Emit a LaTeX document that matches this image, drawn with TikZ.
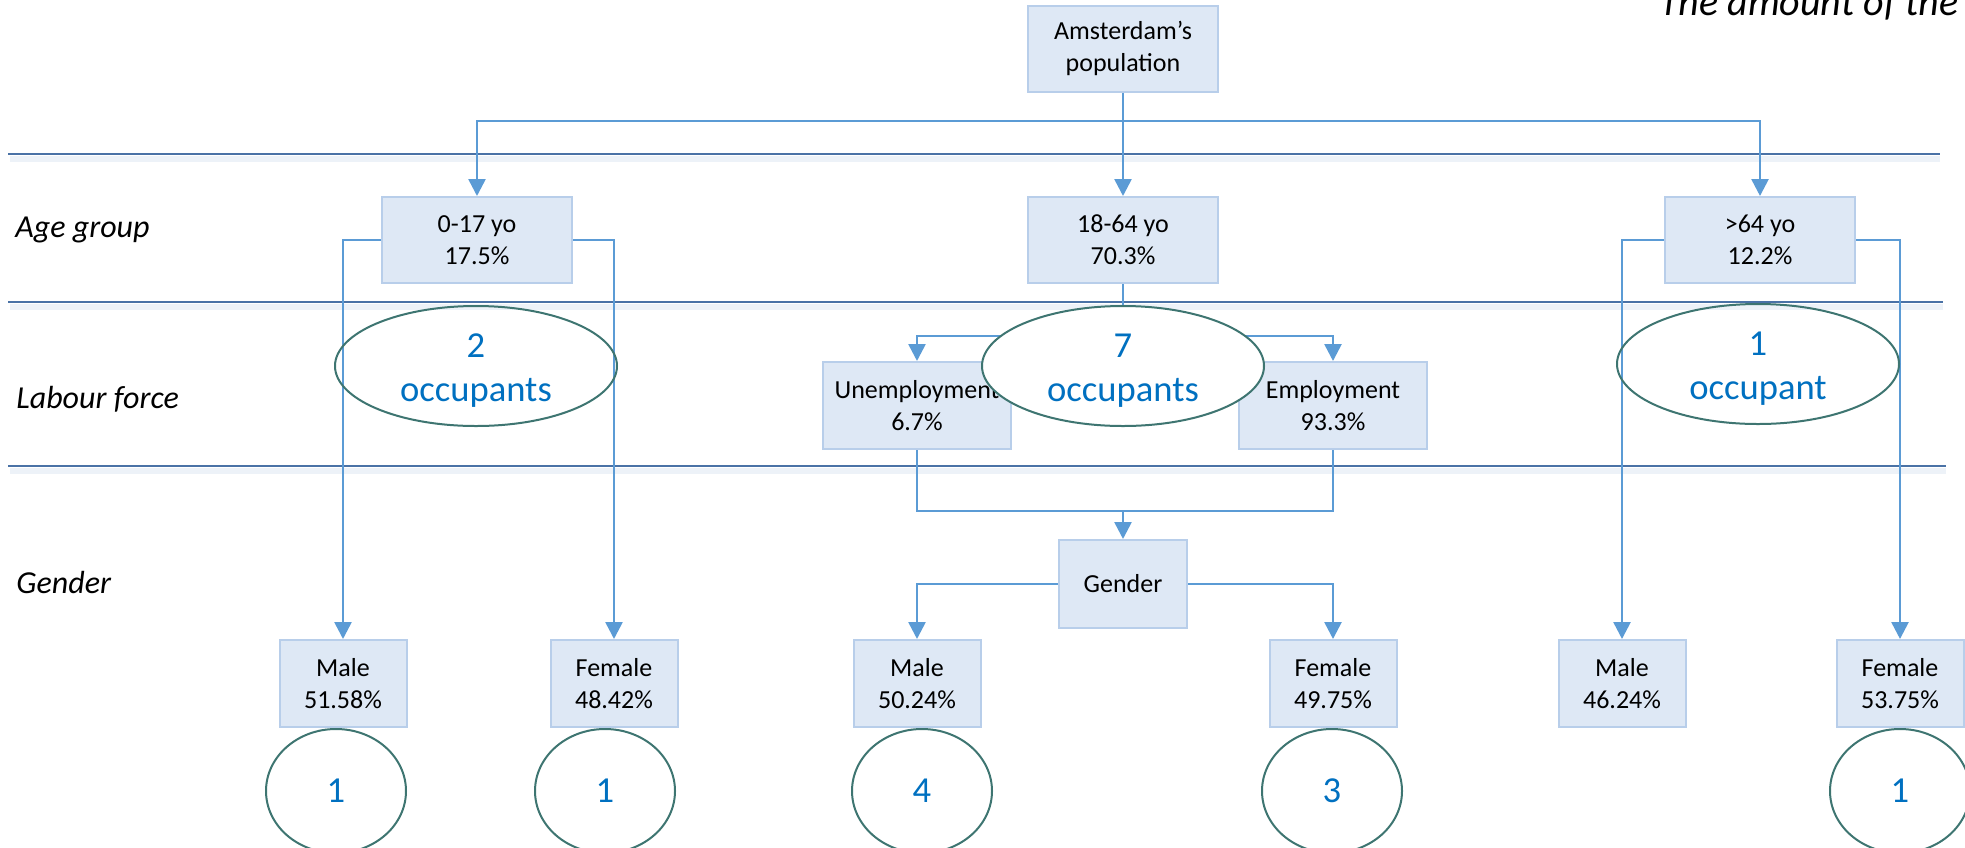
\documentclass[tikz,border=0pt]{standalone}
\usepackage{fontspec}
\setmainfont{Carlito}
\usetikzlibrary{arrows.meta,shapes.geometric}
\definecolor{boxfill}{HTML}{DEE8F5}
\definecolor{boxline}{HTML}{B8CEEA}
\definecolor{flow}{HTML}{5B9BD5}
\definecolor{rulecol}{HTML}{4A72A6}
\definecolor{ruleshade}{HTML}{EDF2F8}
\definecolor{ringcol}{HTML}{3E7571}
\definecolor{countcol}{HTML}{0070C0}
\newcommand{\toplift}{\rule{0pt}{16pt}}

\begin{document}
\begin{tikzpicture}[x=0.5pt,y=-0.5pt,
  box/.style={draw=boxline,fill=boxfill,line width=1pt,inner sep=0pt,
    align=center,text=black,font=\fontsize{13}{16}\selectfont},
  bigbox/.style={box,minimum width=95pt,minimum height=43pt},
  midbox/.style={box,minimum width=94pt,minimum height=43.5pt},
  genbox/.style={box,minimum width=64pt,minimum height=44pt},
  smallbox/.style={box,minimum width=63.5pt,minimum height=43.5pt},
  flowline/.style={draw=flow,line width=1.3pt},
  arr/.style={flowline,-{Triangle[length=8.5pt,width=8.5pt]}},
  ringnode/.style={ellipse,draw=ringcol,line width=1pt,inner sep=0pt,
    align=center,text=countcol,font=\fontsize{18.3}{22}\selectfont},
  bigring/.style={ringnode,minimum width=141pt,minimum height=60pt},
  smallring/.style={ringnode,minimum width=70pt,minimum height=62pt},
  lane/.style={anchor=base west,inner sep=0pt,font=\fontsize{16}{19}\selectfont\itshape},
  sep/.style={draw=rulecol,line width=1pt},
  sepshade/.style={draw=ruleshade,line width=3pt}]

\useasboundingbox (0,0) rectangle (1965,847);
\clip (0,0) rectangle (1965,847);

% lane separators with a soft shade underneath
\foreach \y/\r in {154/1940,302/1943,466/1946}{
  \draw[sepshade] (10,\y+5) -- (\r,\y+5);
  \draw[sep] (8,\y) -- (\r,\y);
}

% lane titles
\node[lane] (lage) at (15,237) {Age group};
\node[lane] (llab) at (16,408) {Labour force};
\node[lane] (lgen) at (16,593) {Gender};

\node[anchor=base west,inner sep=0pt,font=\fontsize{20}{24}\selectfont\itshape]
  (note) at (1659,15) {The amount of the};

% boxes
\node[bigbox] (pop) at (1123,48.5) {Amsterdam’s\\population};
\node[bigbox] (a017) at (477,240) {0-17 yo\\17.5\%};
\node[bigbox] (a1864) at (1123,240) {18-64 yo\\70.3\%};
\node[bigbox] (a64) at (1760,240) {>64 yo\\12.2\%};
\node[midbox] (unemp) at (917,405.5) {Unemployment\\6.7\%};
\node[midbox] (emp) at (1333,405.5) {Employment\\93.3\%};
\node[genbox] (gender) at (1123,584) {Gender};
\node[smallbox] (m1) at (343,683.5) {Male\\51.58\%};
\node[smallbox] (f1) at (614,683.5) {Female\\48.42\%};
\node[smallbox] (m2) at (917,683.5) {Male\\50.24\%};
\node[smallbox] (f2) at (1333,683.5) {Female\\49.75\%};
\node[smallbox] (m3) at (1622,683.5) {Male\\46.24\%};
\node[smallbox] (f3) at (1900,683.5) {Female\\53.75\%};

% connectors
\coordinate (bus) at (1123,121);
\coordinate (split) at (1123,336);
\coordinate (merge) at (1123,511);
\draw[arr] (pop.south) -- (a1864.north);
\draw[arr] (pop.south |- bus) -| (a017.north);
\draw[arr] (pop.south |- bus) -| (a64.north);
\draw[arr] (a017.west) -| (m1.north);
\draw[arr] (a017.east) -| (f1.north);
\draw[arr] (a64.west) -| (m3.north);
\draw[arr] (a64.east) -| (f3.north);
\draw[flowline] (a1864.south) -- (split);
\draw[arr] (split) -| (unemp.north);
\draw[arr] (split) -| (emp.north);
\draw[flowline] (unemp.south) |- (merge);
\draw[flowline] (emp.south) |- (merge);
\draw[arr] (merge) -- (gender.north);
\draw[arr] (gender.west) -| (m2.north);
\draw[arr] (gender.east) -| (f2.north);

% occupant counts
\node[bigring] (o2) at (476,366) {\toplift 2\\occupants};
\node[bigring,fill=white] (o7) at (1123,366) {\toplift 7\\occupants};
\node[bigring] (o1) at (1758,364) {\toplift 1\\occupant};
\node[smallring] (c1) at (336,791) {1};
\node[smallring] (c2) at (605,791) {1};
\node[smallring] (c3) at (922,791) {4};
\node[smallring] (c4) at (1332,791) {3};
\node[smallring] (c5) at (1900,791) {1};
\end{tikzpicture}
\end{document}
